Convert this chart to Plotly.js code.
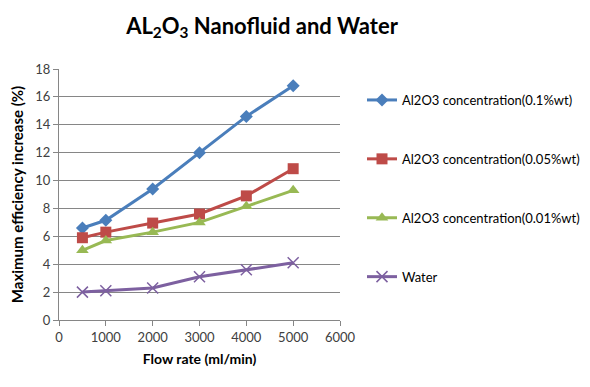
<!DOCTYPE html>
<html>
<head>
<meta charset="utf-8">
<script src="https://cdn.plot.ly/plotly-3.0.1.min.js"></script>
<style>
  html, body { margin: 0; padding: 0; background: #fff; }
  #chart { width: 590px; height: 387px; }
</style>
</head>
<body>
<div id="chart"></div>
<script>
// Flow rate (ml/min)
var flowRate = [500, 1000, 2000, 3000, 4000, 5000];

// Maximum efficiency increase (%)
var conc01  = [6.6, 7.15, 9.4, 12.0, 14.6, 16.8];
var conc005 = [5.9, 6.3, 6.95, 7.6, 8.9, 10.85];
var conc001 = [5.0, 5.7, 6.3, 7.0, 8.15, 9.3];
var water   = [2.0, 2.1, 2.3, 3.1, 3.6, 4.1];

var seriesNames = [
  'Al2O3 concentration(0.1%wt)',
  'Al2O3 concentration(0.05%wt)',
  'Al2O3 concentration(0.01%wt)',
  'Water'
];

var xTicks = [0, 1000, 2000, 3000, 4000, 5000, 6000];
var yTicks = [0, 2, 4, 6, 8, 10, 12, 14, 16, 18];

var FONT = 'Lato, "Open Sans", sans-serif';

function series(name, y, color, symbol, size, group) {
  return {
    x: flowRate, y: y, name: name, type: 'scatter', mode: 'lines+markers',
    legendgroup: group,
    line: { color: color, width: 3 },
    marker: { symbol: symbol, size: size, color: color,
              line: { color: color, width: symbol === 'x-thin-open' ? 1.5 : 0 } }
  };
}

var data = [
  series(seriesNames[0], conc01,  '#4A7EBB', 'diamond',     10, 'a'),
  series(seriesNames[1], conc005, '#BE4B48', 'square',      11, 'b'),
  series(seriesNames[2], conc001, '#98B954', 'triangle-up', 11, 'c'),
  series(seriesNames[3], water,   '#7D60A0', 'x-thin-open', 11, 'd')
];

var layout = {
  width: 590, height: 387,
  margin: { l: 59, r: 250, t: 69, b: 67, autoexpand: false },
  paper_bgcolor: '#ffffff', plot_bgcolor: '#ffffff',
  font: { family: FONT, size: 13, color: '#404040' },
  title: {
    text: 'AL<sub>2</sub>O<sub>3</sub> Nanofluid and Water',
    font: { family: FONT, size: 22, color: '#000000', weight: 'bold' },
    x: 262 / 590, xanchor: 'center', y: 1 - 26 / 387, yanchor: 'middle'
  },
  xaxis: {
    range: [0, 6000], tickvals: xTicks, ticktext: xTicks.map(String),
    showgrid: false, zeroline: false,
    showline: true, linecolor: '#868686', linewidth: 1,
    ticks: 'outside', ticklen: 5, tickcolor: '#868686',
    tickfont: { family: FONT, size: 13, color: '#404040' },
    title: { text: 'Flow rate (ml/min)', standoff: 10,
             font: { family: FONT, size: 14, color: '#000000', weight: 'bold' } }
  },
  yaxis: {
    range: [0, 18], tickvals: yTicks, ticktext: yTicks.map(String),
    showgrid: true, gridcolor: '#868686', gridwidth: 1, zeroline: false,
    showline: true, linecolor: '#868686', linewidth: 1,
    ticks: 'outside', ticklen: 5, tickcolor: '#868686',
    tickfont: { family: FONT, size: 13, color: '#404040' },
    title: { text: 'Maximum efficiency increase (%)', standoff: 8,
             font: { family: FONT, size: 15, color: '#000000', weight: 'bold' } }
  },
  showlegend: true,
  legend: {
    x: (362 - 59) / 281, xanchor: 'left', y: 1 - 16 / 251, yanchor: 'top',
    traceorder: 'grouped', tracegroupgap: 39, itemwidth: 30,
    bgcolor: 'rgba(0,0,0,0)',
    font: { family: FONT, size: 13, color: '#000000' }
  }
};

Plotly.newPlot('chart', data, layout, { displayModeBar: false, staticPlot: true });
</script>
</body>
</html>
